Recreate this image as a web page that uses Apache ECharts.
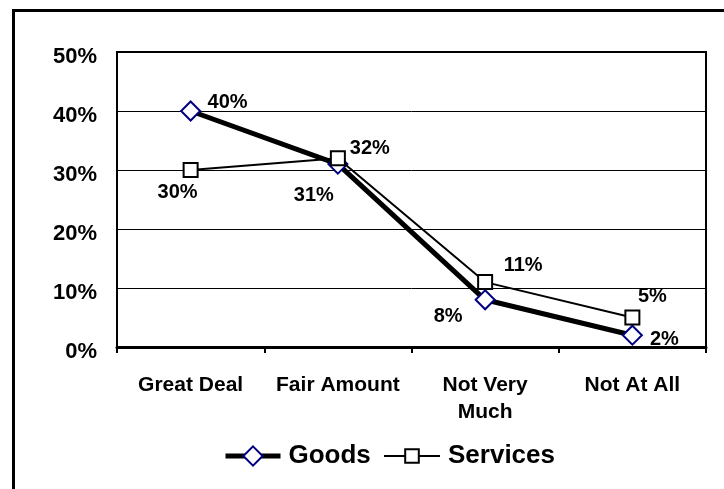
<!DOCTYPE html>
<html>
<head>
<meta charset="utf-8">
<script src="https://cdn.jsdelivr.net/npm/echarts@6/dist/echarts.min.js"></script>
<style>
  html, body { margin: 0; padding: 0; background: #fff; }
  #chart { width: 724px; height: 489px; }
</style>
</head>
<body>
<div id="chart"></div>
<script>
// Survey answers and shares (percent)
const categories = ['Great Deal', 'Fair Amount', 'Not Very\nMuch', 'Not At All'];
const goods = [40, 31, 8, 2];
const services = [30, 32, 11, 5];
const yTicks = [0, 10, 20, 30, 40, 50];

// Where each value label sits relative to its marker (px)
const goodsLabelOffsets = [[37, -9], [-24, 31], [-37, 17], [32, 4]];
const servicesLabelOffsets = [[-13, 22], [32, -10], [38, -17], [20, -21]];

const FONT = "'Liberation Sans', Arial, sans-serif";

function withLabels(values, offsets) {
  return values.map((v, i) => ({
    value: v,
    label: { offset: offsets[i] }
  }));
}

const legendText = {
  fontFamily: FONT, fontWeight: 'bold', fontSize: 26, color: '#000',
  lineHeight: 28, padding: [0, 0, 0, 3]
};

const chart = echarts.init(document.getElementById('chart'), null, { renderer: 'canvas' });

chart.setOption({
  backgroundColor: '#ffffff',
  animation: false,
  textStyle: { fontFamily: FONT },
  graphic: [{
    type: 'rect',
    shape: { x: 13.5, y: 10.5, width: 760, height: 520 },
    style: { fill: 'none', stroke: '#000', lineWidth: 3 },
    silent: true,
    z: 100
  }],
  grid: {
    left: 117, right: 18, top: 52, bottom: 142,
    show: true,
    borderColor: '#000',
    borderWidth: 2,
    backgroundColor: 'transparent'
  },
  legend: [
    {
      left: 223,
      top: 442,
      padding: 0,
      itemWidth: 55,
      itemHeight: 24,
      textStyle: legendText,
      data: [{ name: 'Goods', lineStyle: { width: 5, color: '#000' } }]
    },
    {
      left: 383,
      top: 442,
      padding: 0,
      itemWidth: 56,
      itemHeight: 17,
      textStyle: legendText,
      data: [{ name: 'Services', lineStyle: { width: 2, color: '#000' } }]
    }
  ],
  xAxis: {
    type: 'category',
    data: categories,
    boundaryGap: true,
    axisLine: { show: true, lineStyle: { color: '#000', width: 3 } },
    axisTick: { show: true, length: 6, inside: false, lineStyle: { color: '#000', width: 2 } },
    axisLabel: {
      interval: 0,
      margin: 25,
      color: '#000',
      fontFamily: FONT,
      fontWeight: 'bold',
      fontSize: 21,
      lineHeight: 27
    },
    splitLine: { show: false }
  },
  yAxis: {
    type: 'value',
    min: yTicks[0],
    max: yTicks[yTicks.length - 1],
    interval: 10,
    axisLine: { show: true, lineStyle: { color: '#000', width: 2 } },
    axisTick: { show: false },
    axisLabel: {
      margin: 20,
      color: '#000',
      fontFamily: FONT,
      fontWeight: 'bold',
      fontSize: 22,
      verticalAlign: 'top',
      lineHeight: 10,
      formatter: '{value}%'
    },
    splitLine: { show: true, lineStyle: { color: '#000', width: 1 } }
  },
  series: [
    {
      name: 'Goods',
      type: 'line',
      data: withLabels(goods, goodsLabelOffsets),
      symbol: 'diamond',
      symbolSize: [19, 19],
      showAllSymbol: true,
      lineStyle: { color: '#000', width: 5 },
      itemStyle: { color: '#ffffff', borderColor: '#000080', borderWidth: 2 },
      label: {
        show: true,
        position: 'inside',
        formatter: '{c}%',
        color: '#000',
        fontFamily: FONT,
        fontWeight: 'bold',
        fontSize: 20
      },
      z: 2
    },
    {
      name: 'Services',
      type: 'line',
      data: withLabels(services, servicesLabelOffsets),
      symbol: 'rect',
      symbolSize: 14,
      showAllSymbol: true,
      lineStyle: { color: '#000', width: 2 },
      itemStyle: { color: '#ffffff', borderColor: '#000', borderWidth: 2 },
      label: {
        show: true,
        position: 'inside',
        formatter: '{c}%',
        color: '#000',
        fontFamily: FONT,
        fontWeight: 'bold',
        fontSize: 20
      },
      z: 3
    }
  ]
});
</script>
</body>
</html>
